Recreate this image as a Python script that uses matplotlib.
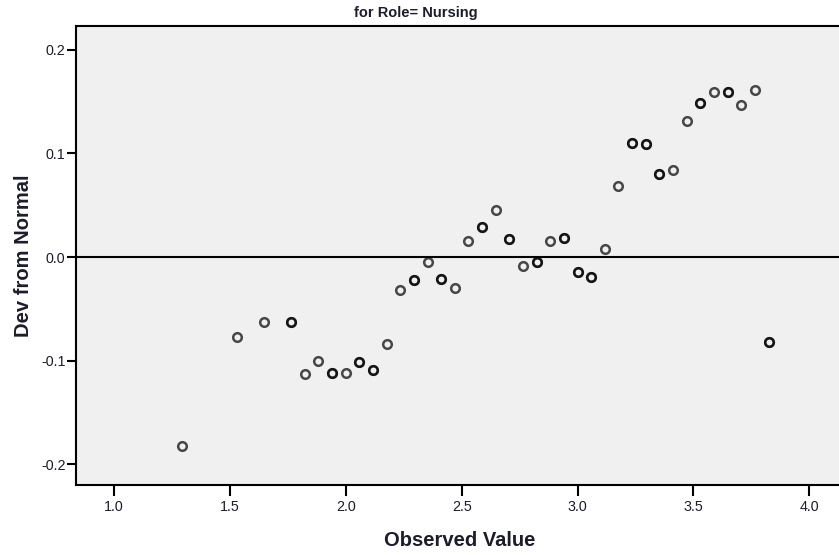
import numpy as np
import matplotlib
matplotlib.use("Agg")
import matplotlib.pyplot as plt

# Detrended normal Q-Q plot data
observed = [1.294, 1.529, 1.647, 1.765, 1.824, 1.882, 1.941, 2.000, 2.059, 2.118,
            2.176, 2.235, 2.294, 2.353, 2.412, 2.471, 2.529, 2.588, 2.647, 2.706,
            2.765, 2.824, 2.882, 2.941, 3.000, 3.059, 3.118, 3.176, 3.235, 3.294,
            3.353, 3.412, 3.471, 3.529, 3.588, 3.647, 3.706, 3.765, 3.824]
dev_from_normal = [-0.182, -0.077, -0.063, -0.063, -0.113, -0.100, -0.112, -0.112, -0.101, -0.109,
                   -0.084, -0.032, -0.022, -0.005, -0.021, -0.030, 0.015, 0.029, 0.045, 0.017,
                   -0.009, -0.005, 0.015, 0.018, -0.014, -0.019, 0.008, 0.068, 0.110, 0.109,
                   0.080, 0.084, 0.131, 0.149, 0.159, 0.159, 0.147, 0.161, -0.082]
# number of cases sharing each observed value (tied cases overplot)
cases = [1, 1, 1, 2, 1, 1, 2, 1, 2, 2,
         1, 1, 2, 1, 2, 1, 1, 2, 1, 2,
         1, 2, 1, 2, 2, 2, 1, 1, 2, 2,
         2, 1, 1, 2, 1, 2, 1, 1, 2]

x_ticks = [1.0, 1.5, 2.0, 2.5, 3.0, 3.5, 4.0]
y_ticks = [-0.2, -0.1, 0.0, 0.1, 0.2]

title = "for Role= Nursing"
x_label = "Observed Value"
y_label = "Dev from Normal"

plt.rcParams['font.family'] = ['Liberation Sans', 'DejaVu Sans']
text_color = '#1c1c2a'

W, H = 839, 555
fig = plt.figure(figsize=(W / 100, H / 100), dpi=100)
fig.patch.set_facecolor('white')

left, right, top, bottom = 76, 843, 26, 485
ax = fig.add_axes([left / W, (H - bottom) / H, (right - left) / W, (bottom - top) / H])
ax.set_facecolor('#f0f0f0')

xs = np.repeat(observed, cases)
ys = np.repeat(dev_from_normal, cases)
ax.plot(xs, ys, linestyle='none', marker='o', markersize=6.2,
        markerfacecolor='none', markeredgecolor=(0, 0, 0, 0.7),
        markeredgewidth=1.8, zorder=3)

ax.axhline(0.0, color='black', linewidth=1.5, zorder=2)

ax.set_xlim(0.836, 4.145)
ax.set_ylim(-0.2199, 0.2228)
ax.set_xticks(x_ticks)
ax.set_xticklabels([f"{v:.1f}" for v in x_ticks])
ax.set_yticks(y_ticks)
ax.set_yticklabels([f"{v:.1f}" for v in y_ticks])

ax.spines['right'].set_visible(False)
for s in ['left', 'top', 'bottom']:
    ax.spines[s].set_color('black')
    ax.spines[s].set_linewidth(1.5)

ax.tick_params(axis='x', direction='out', length=8, width=1.5, color='black',
               labelsize=10.3, labelcolor=text_color, pad=3)
ax.tick_params(axis='y', direction='out', length=6.5, width=1.5, color='black',
               labelsize=10.3, labelcolor=text_color, pad=1)

ax.set_xlabel(x_label, fontsize=14.5, fontweight='bold', color=text_color, labelpad=12)
ax.set_ylabel(y_label, fontsize=14.5, fontweight='bold', color=text_color, labelpad=6)

fig.text(415.5 / W, 1 - 13 / H, title, ha='center', va='center',
         fontsize=10.5, fontweight='bold', color=text_color)

fig.savefig('out.png', dpi=100)
